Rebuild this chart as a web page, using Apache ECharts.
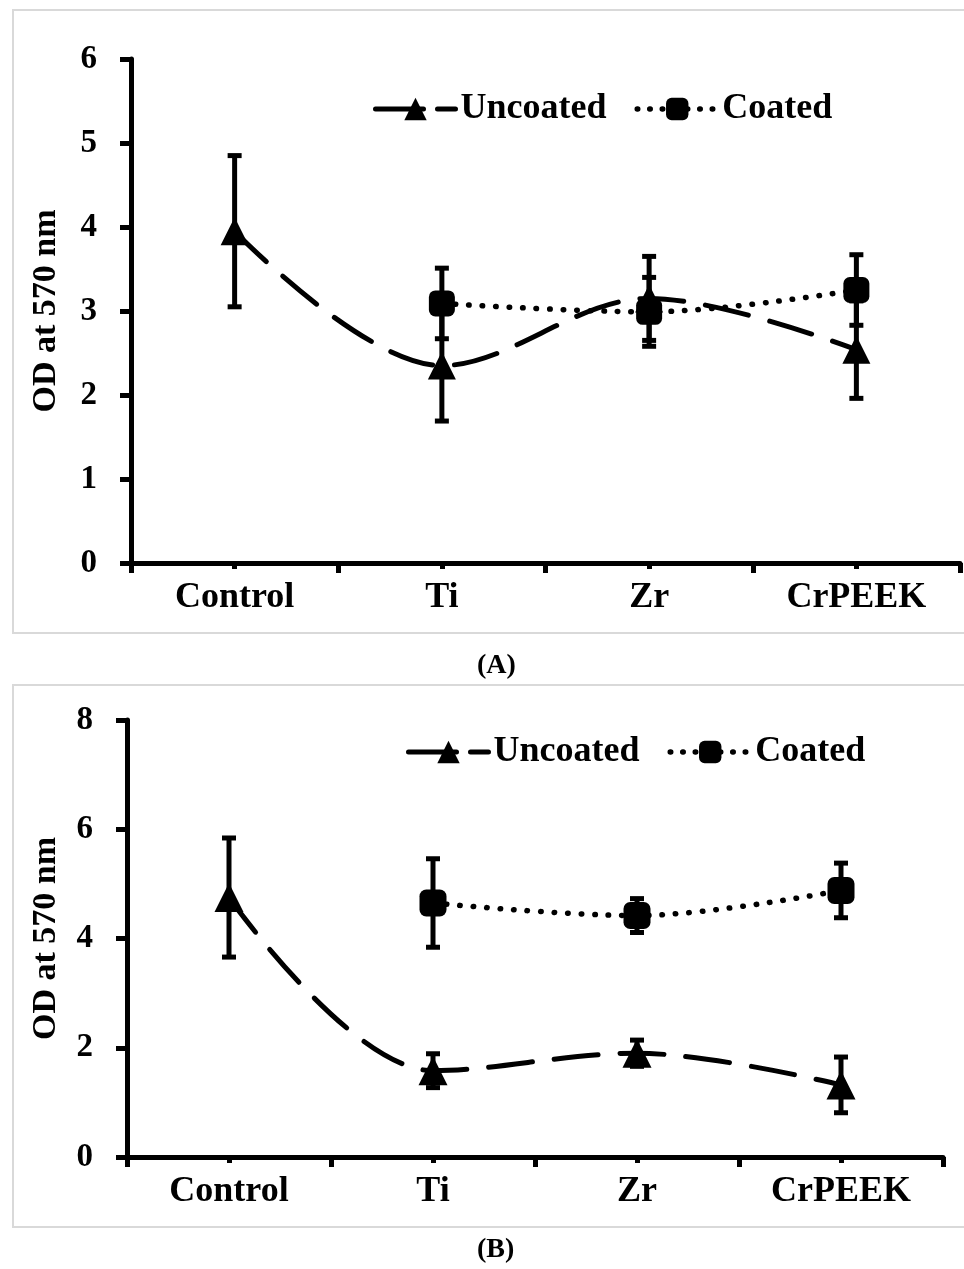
<!DOCTYPE html>
<html>
<head>
<meta charset="utf-8">
<script src="https://cdn.jsdelivr.net/npm/echarts@6/dist/echarts.min.js"></script>
<style>
  html, body { margin: 0; padding: 0; background: #fff; }
  #chart { width: 964px; height: 1269px; }
</style>
</head>
<body>
<div id="chart"></div>
<script>
// OD at 570 nm, uncoated vs coated, two panels
const categories = ['Control', 'Ti', 'Zr', 'CrPEEK'];
const yTitle = 'OD at 570 nm';

// panel A
const uncoatedA = [3.95, 2.35, 3.15, 2.54];
const uncoatedErrA = [0.90, 0.66, 0.50, 0.58];
const coatedA = [null, 3.09, 2.99, 3.25];
const coatedErrA = [null, 0.42, 0.41, 0.42];

// panel B
const uncoatedB = [4.75, 1.58, 1.90, 1.32];
const uncoatedErrB = [1.09, 0.31, 0.24, 0.51];
const coatedB = [null, 4.65, 4.42, 4.88];
const coatedErrB = [null, 0.81, 0.31, 0.50];

const FONT = '"Liberation Serif", "DejaVu Serif", serif';

// categories sit in the middle of each pair of slots: 1, 3, 5, 7
const xOf = i => 2 * i + 1;
const pts = vals => vals.map((v, i) => v == null ? null : [xOf(i), v]).filter(d => d);
const errs = (vals, e) => vals.map((v, i) => v == null ? null : [xOf(i), v - e[i], v + e[i]]).filter(d => d);

function errorBar(params, api) {
  const x = api.value(0);
  const lo = api.coord([x, api.value(1)]);
  const hi = api.coord([x, api.value(2)]);
  const st = { stroke: '#000', lineWidth: 5 };
  return {
    type: 'group',
    children: [
      { type: 'line', shape: { x1: lo[0], y1: lo[1], x2: hi[0], y2: hi[1] }, style: st },
      { type: 'line', shape: { x1: hi[0] - 7, y1: hi[1], x2: hi[0] + 7, y2: hi[1] }, style: st },
      { type: 'line', shape: { x1: lo[0] - 7, y1: lo[1], x2: lo[0] + 7, y2: lo[1] }, style: st }
    ]
  };
}

function xAxes(gridIndex) {
  return [{
    gridIndex: gridIndex, type: 'value', min: 0, max: 8, interval: 2, position: 'bottom',
    axisLine: { lineStyle: { color: '#000', width: 5 } },
    axisTick: { length: 10, lineStyle: { color: '#000', width: 5 } },
    minorTick: { show: true, splitNumber: 2, length: 6, lineStyle: { color: '#000', width: 5 } },
    axisLabel: { show: false },
    splitLine: { show: false }
  }, {
    gridIndex: gridIndex, type: 'value', min: 0, max: 8, interval: 1, position: 'bottom',
    axisLine: { show: false }, axisTick: { show: false }, splitLine: { show: false },
    axisLabel: {
      margin: 17, color: '#000', fontFamily: FONT, fontWeight: 'bold', fontSize: 36,
      formatter: v => (v % 2 === 1 ? categories[(v - 1) / 2] : '')
    }
  }];
}

function yAxis(gridIndex, max, interval, nameGap) {
  return {
    gridIndex: gridIndex, type: 'value', min: 0, max: max, interval: interval,
    name: yTitle, nameLocation: 'middle', nameRotate: 90, nameGap: nameGap,
    nameTextStyle: { color: '#000', fontFamily: FONT, fontWeight: 'bold', fontSize: 34 },
    axisLine: { show: true, lineStyle: { color: '#000', width: 5 } },
    axisTick: { show: true, length: 11, lineStyle: { color: '#000', width: 5 } },
    axisLabel: { margin: 34, color: '#000', fontFamily: FONT, fontWeight: 'bold', fontSize: 33 },
    splitLine: { show: false }
  };
}

const uncoatedStyle = { color: '#000', width: 5, type: [44, 22], cap: 'round' };
const coatedStyle = { color: '#000', width: 5.5, type: [0.5, 13], cap: 'round' };

function panelSeries(xi, yi, unc, uncErr, coa, coaErr, sym) {
  return [{
    name: 'Uncoated', type: 'line', xAxisIndex: xi, yAxisIndex: yi, smooth: 0.35,
    data: pts(unc), symbol: 'triangle', symbolSize: sym, itemStyle: { color: '#000' },
    lineStyle: uncoatedStyle, z: 3
  }, {
    name: 'Coated', type: 'line', xAxisIndex: xi, yAxisIndex: yi, smooth: 0.35,
    data: pts(coa), symbol: 'roundRect', symbolSize: sym - 2, itemStyle: { color: '#000' },
    lineStyle: coatedStyle, z: 3
  }, {
    type: 'custom', xAxisIndex: xi, yAxisIndex: yi, renderItem: errorBar,
    data: errs(unc, uncErr), encode: { x: 0, y: [1, 2] }, z: 4
  }, {
    type: 'custom', xAxisIndex: xi, yAxisIndex: yi, renderItem: errorBar,
    data: errs(coa, coaErr), encode: { x: 0, y: [1, 2] }, z: 4
  }];
}

function legendAt(left, top) {
  return {
    left: left, top: top, itemWidth: 80, itemHeight: 28, itemGap: 28, itemStyle: { color: '#000' },
    textStyle: { color: '#000', fontFamily: FONT, fontWeight: 'bold', fontSize: 36 },
    data: [
      { name: 'Uncoated', lineStyle: { color: '#000', width: 5, type: [48, 14], cap: 'round' } },
      { name: 'Coated', lineStyle: { color: '#000', width: 5.5, type: [0.5, 12], cap: 'round' } }
    ]
  };
}

const chart = echarts.init(document.getElementById('chart'));
chart.setOption({
  animation: false,
  backgroundColor: '#fff',
  grid: [
    { left: 131, right: 4, top: 59, bottom: 1269 - 563 },
    { left: 127, right: 21, top: 720, bottom: 1269 - 1157 }
  ],
  legend: [legendAt(368, 86), legendAt(401, 729)],
  xAxis: xAxes(0).concat(xAxes(1)),
  yAxis: [yAxis(0, 6, 1, 68), yAxis(1, 8, 2, 64)],
  series: panelSeries(0, 0, uncoatedA, uncoatedErrA, coatedA, coatedErrA, 28)
    .concat(panelSeries(2, 1, uncoatedB, uncoatedErrB, coatedB, coatedErrB, 29)),
  graphic: [
    { type: 'rect', shape: { x: 13, y: 10, width: 960, height: 623 }, style: { fill: 'none', stroke: '#d9d9d9', lineWidth: 2 }, silent: true },
    { type: 'rect', shape: { x: 13, y: 685, width: 960, height: 542 }, style: { fill: 'none', stroke: '#d9d9d9', lineWidth: 2 }, silent: true },
    { type: 'text', left: 477, top: 652, style: { text: '(A)', fill: '#000', font: 'bold 28px "Liberation Serif", serif' } },
    { type: 'text', left: 477, top: 1236, style: { text: '(B)', fill: '#000', font: 'bold 28px "Liberation Serif", serif' } }
  ]
});
</script>
</body>
</html>
